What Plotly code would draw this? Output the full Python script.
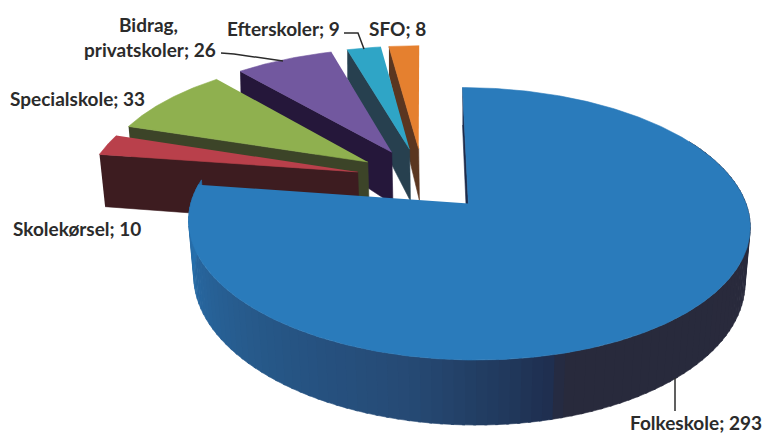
import numpy as np
import plotly.graph_objects as go

# ---- data ----
categories = ["Folkeskole", "Skolekørsel", "Specialskole", "Bidrag, privatskoler", "Efterskoler", "SFO"]
values = [293, 10, 33, 26, 9, 8]
top_colors = ["#2A7BBB", "#B9404B", "#8FB04F", "#72589F", "#2FA5C6", "#E5802F"]
wall_colors = ["#1E2B4A", "#3D1C20", "#3C4428", "#25173A", "#27404F", "#5A3620"]

# ---- projection of the exploded 3-D pie ----
SX, SY, A, B, K, EXPLODE = 423.0, 179.0, 270.0, 126.0, 0.145, 0.25


def project(X, Y):
    w = 1 + K * np.asarray(Y)
    return SX + A * np.asarray(X) / w, SY - B * np.asarray(Y) / w


def drop(x, y):
    """Lower rim of a point on the top face."""
    x, y = np.asarray(x, float), np.asarray(y, float)
    return 468 + (x - 468) * np.interp(y, [47, 150, 360], [1.0, 0.985, 0.975]), y + np.interp(y, [47, 150, 360], [28, 52, 65])


def poly(fig, xs, ys, color):
    fig.add_trace(go.Scatter(x=list(xs), y=list(ys), mode="lines", fill="toself", fillcolor=color,
                             line=dict(color=color, width=0.6), hoverinfo="skip", showlegend=False))


fig = go.Figure()
total = sum(values)
sweeps = np.array(values) / total * 360
starts = np.concatenate([[0], np.cumsum(sweeps)[:-1]])


def slice_geom(i):
    s, e = starts[i], starts[i] + sweeps[i]
    mid = np.radians((s + e) / 2)
    cx, cy = EXPLODE * np.sin(mid), EXPLODE * np.cos(mid)
    th = np.radians(np.linspace(s, e, max(int((e - s) * 2), 2) + 1))
    return cx, cy, th


wall_theta = [90, 164, 167, 174, 192, 225, 270, 280]
wall_rgb = np.array([[42, 42, 60], [40, 42, 60], [31, 47, 80], [33, 57, 92], [38, 74, 117],
                     [39, 89, 138], [39, 113, 174], [39, 113, 174]])

# back slices first, front slices over them; the big slice comes last
for i in [5, 4, 3, 2, 1, 0]:
    cx, cy, th = slice_geom(i)
    ax, ay = project(cx + np.sin(th), cy + np.cos(th))
    tx, ty = project(cx, cy)
    # radial wall on the side that faces the viewer
    bx, by = drop([ax[0], tx], [ay[0], ty])
    poly(fig, [ax[0], tx, bx[1], bx[0]], [ay[0], ty, by[1], by[0]], wall_colors[i])
    if i == 0:
        # curved outer wall, shaded along the rim
        step = 2.0
        for t in np.arange(60, starts[0] + sweeps[0], step):
            seg = np.radians(np.array([t, t + step + 0.5]))
            px, py = project(cx + np.sin(seg), cy + np.cos(seg))
            qx, qy = drop(px, py)
            rgb = [int(np.interp(t + step / 2, wall_theta, wall_rgb[:, c])) for c in range(3)]
            col = "rgb(%d,%d,%d)" % tuple(rgb)
            poly(fig, [px[0], px[1], qx[1], qx[0]], [py[0], py[1], qy[1], qy[0]], col)
    poly(fig, np.r_[tx, ax], np.r_[ty, ay], top_colors[i])

# ---- labels ----
TXT = "#2B2B2B"
labels = [
    ("Bidrag,", 148, 24),
    ("privatskoler; 26", 150, 49),
    ("Efterskoler; 9", 283, 28),
    ("SFO; 8", 397, 28),
    ("Specialskole; 33", 77, 98),
    ("Skolekørsel; 10", 77, 228),
    ("Folkeskole; 293", 696, 422),
]
annotations = [dict(text=t, x=x, y=y, xref="x", yref="y", showarrow=False, xanchor="center", yanchor="middle",
                    font=dict(family="Lato", size=19, color=TXT, weight="bold")) for t, x, y in labels]

leaders = [
    ([221, 234, 283], [53, 54, 61]),
    ([344, 358, 364], [33, 33, 49]),
    ([675, 675], [378, 411]),
]
for lx, ly in leaders:
    fig.add_trace(go.Scatter(x=lx, y=ly, mode="lines", line=dict(color="#2B2B2B", width=1.5),
                             hoverinfo="skip", showlegend=False))

fig.update_layout(
    width=763, height=434, margin=dict(l=0, r=0, t=0, b=0),
    paper_bgcolor="white", plot_bgcolor="white", showlegend=False, annotations=annotations,
    xaxis=dict(range=[0, 763], visible=False, fixedrange=True),
    yaxis=dict(range=[434, 0], visible=False, fixedrange=True),
)
fig.write_html("out.html", config=dict(displayModeBar=False),
               post_script="document.body.style.margin='0';document.documentElement.style.overflow='hidden';")
